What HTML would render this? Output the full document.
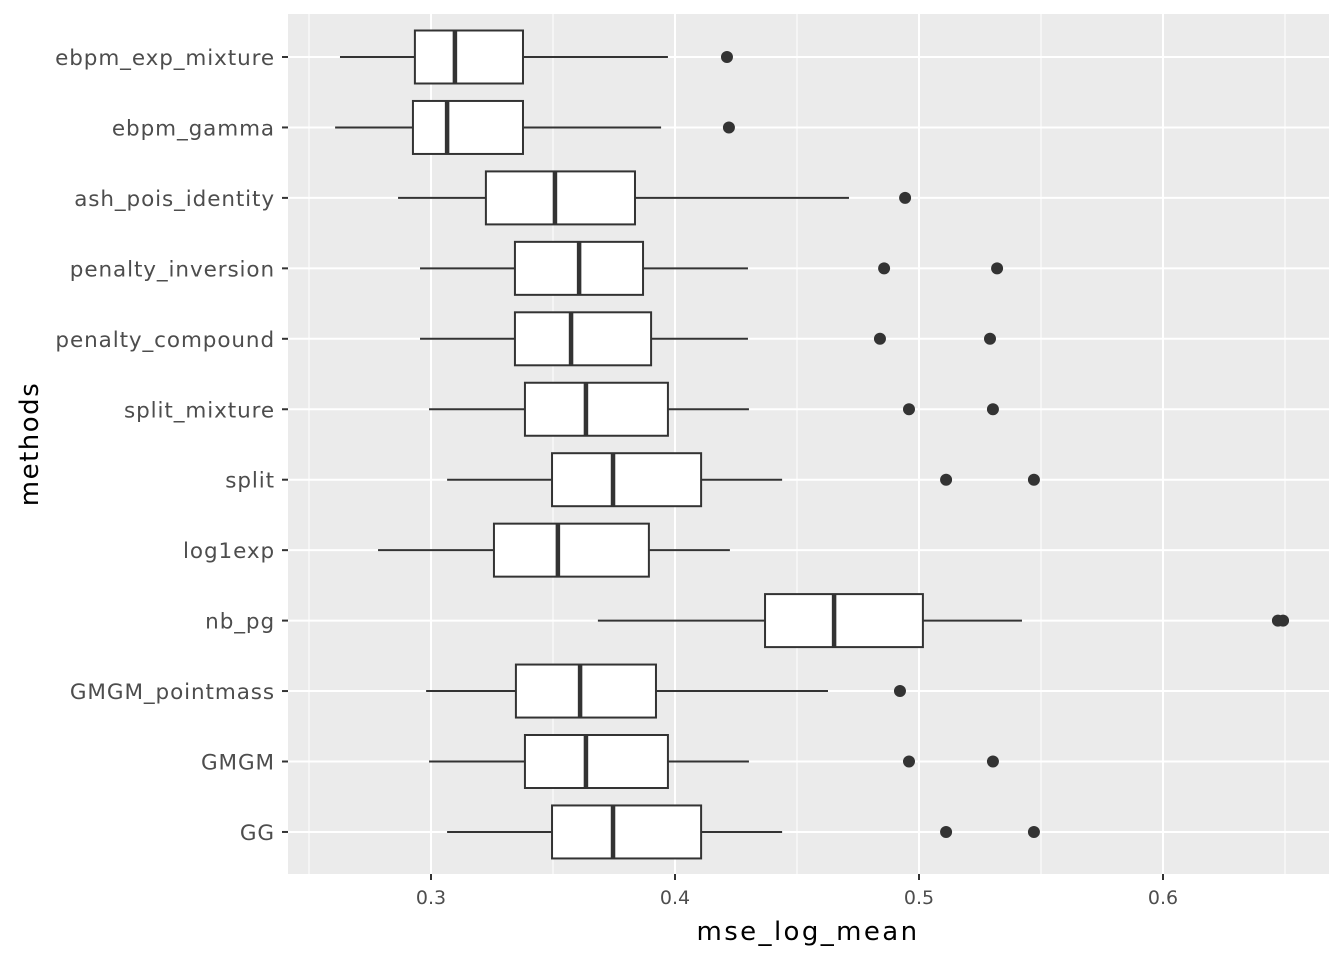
<!DOCTYPE html>
<html><head><meta charset="utf-8"><style>
body{margin:0;background:#fff;}
svg{display:block;font-family:"DejaVu Sans","Liberation Sans",sans-serif;}
</style></head><body>
<svg id="chart" width="1344" height="960">
<rect x="288" y="14" width="1041" height="860" fill="#ebebeb"/>
<g id="grid"></g><g id="boxes"></g><g id="axes"></g>
<text x="808" y="940" font-size="26" letter-spacing="2.4" text-anchor="middle" fill="#000">mse_log_mean</text>
<text transform="translate(38,444) rotate(-90)" font-size="26" letter-spacing="1.5" text-anchor="middle" fill="#000">methods</text>
</svg>
<script>
const methods=["ebpm_exp_mixture","ebpm_gamma","ash_pois_identity","penalty_inversion","penalty_compound","split_mixture","split","log1exp","nb_pg","GMGM_pointmass","GMGM","GG"];
const whiskerLow=[0.2627,0.2607,0.2865,0.2955,0.2955,0.2992,0.3066,0.2783,0.3684,0.2980,0.2992,0.3066];
const q1=[0.2934,0.2926,0.3225,0.3344,0.3344,0.3385,0.3496,0.3258,0.4369,0.3348,0.3385,0.3496];
const median=[0.3098,0.3066,0.3508,0.3607,0.3574,0.3635,0.3746,0.3520,0.4652,0.3611,0.3635,0.3746];
const q3=[0.3377,0.3377,0.3836,0.3869,0.3902,0.3971,0.4107,0.3893,0.5016,0.3922,0.3971,0.4107];
const whiskerHigh=[0.3971,0.3943,0.4713,0.4299,0.4299,0.4303,0.4439,0.4225,0.5422,0.4627,0.4303,0.4439];
const outliers=[[0.4213],[0.4221],[0.4943],[0.4857,0.5320],[0.4840,0.5291],[0.4959,0.5303],[0.5111,0.5471],[],[0.6471,0.6492],[0.4922],[0.4959,0.5303],[0.5111,0.5471]];
const majorTicks=[0.3,0.4,0.5,0.6];
const minorTicks=[0.25,0.35,0.45,0.55,0.65];
const NS="http://www.w3.org/2000/svg";
const X=v=>431+(v-0.3)*2440;
const Y=i=>57+i*70.45;
function mk(tag,attrs,parent){const e=document.createElementNS(NS,tag);for(const k in attrs)e.setAttribute(k,attrs[k]);parent.appendChild(e);return e;}
const grid=document.getElementById('grid'),boxes=document.getElementById('boxes'),axes=document.getElementById('axes');
minorTicks.forEach(t=>{const l=mk('line',{x1:X(t),x2:X(t),y1:14,y2:874,stroke:'#fff','stroke-width':1},grid);

});
majorTicks.forEach(t=>{const l=mk('line',{x1:X(t),x2:X(t),y1:14,y2:874,stroke:'#fff','stroke-width':2},grid);


const tk=mk('line',{x1:X(t),x2:X(t),y1:874,y2:880,stroke:'#333','stroke-width':2},axes);


const tx=mk('text',{x:X(t),y:904,'font-size':19,'text-anchor':'middle',fill:'#4d4d4d'},axes);tx.textContent=t.toFixed(1);

});
methods.forEach((m,i)=>{const y=Y(i);
const g=mk('line',{x1:288,x2:1329,y1:y,y2:y,stroke:'#fff','stroke-width':2},grid);


const tk=mk('line',{x1:282,x2:288,y1:y,y2:y,stroke:'#333','stroke-width':2},axes);


const tx=mk('text',{x:275,y:y+8,'font-size':21.5,'letter-spacing':0.9,'text-anchor':'end',fill:'#4d4d4d'},axes);tx.textContent=m;


const grp=mk('g',{},boxes);


mk('line',{x1:X(whiskerLow[i]),x2:X(q1[i]),y1:y,y2:y,stroke:'#333','stroke-width':2},grp);
mk('line',{x1:X(q3[i]),x2:X(whiskerHigh[i]),y1:y,y2:y,stroke:'#333','stroke-width':2},grp);
mk('rect',{x:X(q1[i]),y:y-26.5,width:X(q3[i])-X(q1[i]),height:53,fill:'#fff',stroke:'#333','stroke-width':2},grp);
mk('line',{x1:X(median[i]),x2:X(median[i]),y1:y-26.5,y2:y+26.5,stroke:'#333','stroke-width':4.5},grp);
outliers[i].forEach(o=>{const c=mk('circle',{cx:X(o),cy:y,r:6,fill:'#333'},grp);

});});
</script>
</body></html>
